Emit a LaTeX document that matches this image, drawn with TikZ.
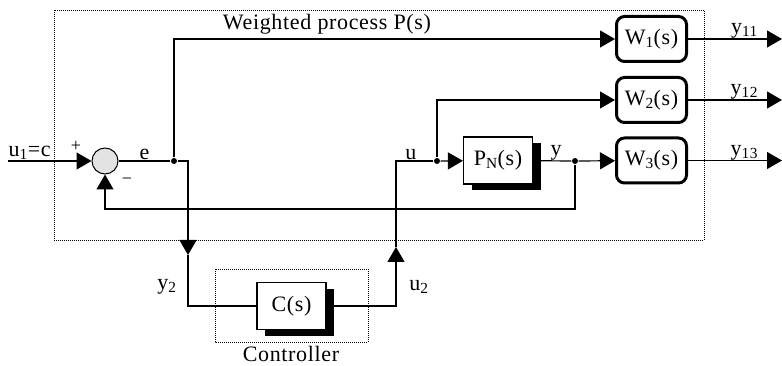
\documentclass[tikz,border=0pt]{standalone}
\usepackage{fontspec}
\setmainfont{Liberation Serif}[LetterSpace=3]
\usetikzlibrary{arrows.meta,shadows}
\tikzset{
  >={Triangle[length=15pt,width=17pt]},
  blk/.style={draw, fill=white, line width=1.2pt, minimum width=69pt, minimum height=47pt,
    drop shadow={shadow xshift=8pt, shadow yshift=-6pt, fill=black, opacity=1}},
  wblk/.style={draw, fill=white, rounded corners=8pt, line width=3pt, minimum width=70pt, minimum height=45pt},
  jdot/.style={circle, fill, inner sep=0pt, minimum size=6pt},
  sumc/.style={circle, draw, fill=gray!22, line width=1pt, inner sep=0pt, minimum size=26pt},
  frame/.style={line width=0.8pt, dash pattern=on 1pt off 1pt},
  sgn/.style={font=\fontsize{18}{20}\selectfont, inner sep=0pt}
}

\begin{document}
\begin{tikzpicture}[x=1pt, y=-1pt, line width=1.2pt, font=\fontsize{22}{26}\selectfont]
    \useasboundingbox (0,0) rectangle (782,366);
    % frames
    \draw [frame] (54,10) rectangle (704,240);
    \draw [frame] (215,269) rectangle (368,342);
    \node (ptitle) at (327,24) {Weighted process P(s)};
    \node [inner sep=0pt] (ctitle) at (291,354) {Controller};

    % blocks
    \node [sumc] (sum) at (105,161) {};
    \node [jdot] (ej) at (174,161) {};
    \node [jdot] (uj) at (437,161) {};
    \node [jdot] (yj) at (575,161) {};
    \node [blk] (plant) at (498,160.5) {P\textsubscript{N}(s)};
    \node [blk] (ctrl) at (291.5,306) {C(s)};
    \node [wblk] (wone) at (651.5,39) {W\textsubscript{1}(s)};
    \node [wblk] (wtwo) at (651.5,100) {W\textsubscript{2}(s)};
    \node [wblk] (wthree) at (651.5,160.5) {W\textsubscript{3}(s)};

    \coordinate (in) at (8,161);
    \coordinate (ytip) at (188,255);
    \coordinate (utip) at (396,247);
    \coordinate (fb) at (575,209);
    \coordinate (yone) at (782,39);
    \coordinate (ytwo) at (782,100);
    \coordinate (ythree) at (782,160.5);

    % labels
    \node [anchor=south west, inner sep=0pt] (ulbl) at (8,160) {u\textsubscript{1}=c};
    \node [sgn] (plus) at (76,146) {+};
    \node [sgn] (minus) at (127,181) {\textminus};
    \node (ytwolbl) at (167,287) {y\textsubscript{2}};
    \node (utwolbl) at (419,287) {u\textsubscript{2}};

    % signals
    \draw [->] (in) -- (sum);
    \draw (sum) -- (ej) node[midway,above,inner sep=0.5pt] {e};
    \draw [->] (ej) |- (wone);
    \draw [->] (ej) -| (ytip);
    \draw (ytip) |- (ctrl);
    \draw [->] (ctrl) -| (utip);
    \draw (utip) |- (uj) node[pos=0.7,above,inner sep=0.5pt] {u};
    \draw [->] (uj) -- (plant);
    \draw [->] (uj) |- (wtwo);
    \draw (plant) -- (yj) node[pos=0.6,above,inner sep=0pt] {y};
    \draw [->] (yj) -- (wthree);
    \draw [->] (yj) -- (fb) -| (sum);

    \draw [->] (wone) -- (yone) node[pos=0.6,above,inner sep=0pt] {y\textsubscript{11}};
    \draw [->] (wtwo) -- (ytwo) node[pos=0.6,above,inner sep=0pt] {y\textsubscript{12}};
    \draw [->] (wthree) -- (ythree) node[pos=0.6,above,inner sep=0pt] {y\textsubscript{13}};
\end{tikzpicture}
\end{document}
